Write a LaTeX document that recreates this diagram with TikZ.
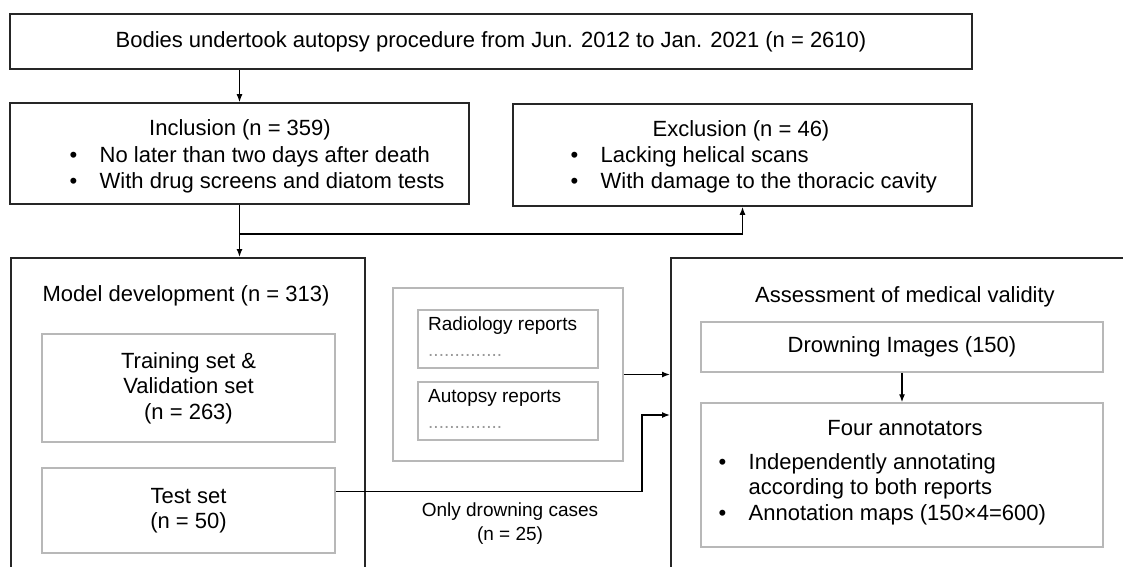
\documentclass[tikz,border=0pt]{standalone}
\usepackage{fontspec}
\setmainfont{Liberation Sans}
\usepackage{tikz}
\usetikzlibrary{arrows.meta,positioning,calc}

\newcommand{\bul}{\makebox[30pt][l]{\textbullet}}

\begin{document}
\begin{tikzpicture}[x=1pt,y=-1pt,>={Latex[length=8pt,width=6pt]},line width=1.4pt]
	\tikzstyle{every node}=[inner sep=0pt,font=\fontsize{22}{25.5}\selectfont]
	\tikzstyle{box}=[draw=black!85,line width=1.6pt]
	\tikzstyle{sub}=[draw=black!28,line width=1.5pt]
	\tikzstyle{small}=[font=\fontsize{19}{24}\selectfont]
	
	\useasboundingbox (0,0) rectangle (1123,566);
	\clip (0,0) rectangle (1123,566);
	
	% top row
	\node[box,minimum width=962,minimum height=55](bodies) at (491,41.5){\raisebox{-2pt}{Bodies undertook autopsy procedure from Jun. 2012 to Jan. 2021 (n = 2610)}};
	\node[box,minimum width=459,minimum height=101](incl) at (239.5,153.5){};
	\node[box,minimum width=459,minimum height=102](excl) at (742.5,155){};
	\node(incltitle) at (240,130){Inclusion (n = 359)};
	\node[anchor=west,align=left](incllist) at (69,170){\bul No later than two days after death\\\bul With drug screens and diatom tests};
	\node(excltitle) at (741,131){Exclusion (n = 46)};
	\node[anchor=west,align=left](excllist) at (570,170){\bul Lacking helical scans\\\bul With damage to the thoracic cavity};
	
	% model development
	\node[box,anchor=north west,minimum width=354,minimum height=340](model) at (10,257){};
	\node(modeltitle) at (186,296){Model development (n = 313)};
	\node[sub,minimum width=293,minimum height=108,align=center](train) at (188.5,388){Training set \&\\Validation set\\(n = 263)};
	\node[sub,minimum width=293,minimum height=85,align=center](test) at (188.5,510.5){Test set\\(n = 50)};
	
	% reports
	\node[sub,minimum width=230,minimum height=173](reports) at (508,374.5){};
	\node[sub,minimum width=180,minimum height=58](radio) at (508,339){};
	\node[sub,minimum width=180,minimum height=58](autopsy) at (508,411){};
	\node[small,anchor=west](radiotext) at (427.5,326){Radiology reports};
	\node[small,anchor=base west,text=black!40](radiodots) at (427.5,356){..............};
	\node[small,anchor=west](autopsytext) at (427.5,398){Autopsy reports};
	\node[small,anchor=base west,text=black!40](autopsydots) at (427.5,428){..............};
	
	% medical validity
	\node[box,anchor=north west,minimum width=500,minimum height=340](assess) at (670,257){};
	\node(assesstitle) at (905,297){Assessment of medical validity};
	\node[sub,minimum width=402,minimum height=50](drown) at (902,347){Drowning Images (150)};
	\node[sub,minimum width=402,minimum height=144](annot) at (902,475){};
	\node(annottitle) at (905,428){Four annotators};
	\node[anchor=west,align=left](annotlist) at (718,489){\bul Independently annotating\\\hspace*{30pt}according to both reports\\\bul Annotation maps (150×4=600)};
	
	\node[small,align=center](only) at (510,524){Only drowning cases\\(n = 25)};
	
	\path[->] (bodies.south -| incl.north) edge (incl.north);
	\draw[->] (incl.south) -- (incl.south |- model.north);
	\draw[->] (incl.south) ++(0,29) coordinate(split) -| (excl.south);
	\draw[->] (reports.east) -- (reports.east -| assess.west);
	\draw[->] ([yshift=19pt]test.east) -| (642,415) -- (assess.west |- 0,415);
	\draw[->] (drown.south) -- (annot.north);
\end{tikzpicture}
\end{document}
